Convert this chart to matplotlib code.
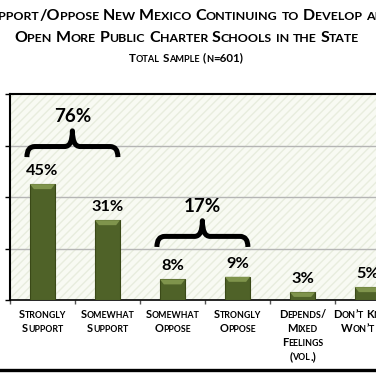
import matplotlib
matplotlib.use("Agg")
import matplotlib.pyplot as plt
from matplotlib.patches import Rectangle, Polygon, PathPatch
from matplotlib.path import Path
from matplotlib.lines import Line2D
import numpy as np

# ---------------- data ----------------
categories = [
    "Strongly\nSupport",
    "Somewhat\nSupport",
    "Somewhat\nOppose",
    "Strongly\nOppose",
    "Depends/\nMixed\nFeelings\n(vol.)",
    "Don\u2019t Know/\nWon\u2019t Say",
]
values = [45, 31, 8, 9, 3, 5]
groups = [(0, 1), (2, 3)]
group_totals = [76, 17]
title_lines = ["Support/Oppose New Mexico Continuing to Develop and",
               "Open More Public Charter Schools in the State"]
subtitle = "Total Sample (n=601)"
y_max = 80
y_ticks = [0, 20, 40, 60, 80]

# ---------------- style ----------------
FONT = ["Lato", "DejaVu Sans"]
W = H = 376
BAR = "#4f6228"
BEVEL = "#7f944c"
EDGE = "#3a4917"

plt.rcParams["hatch.linewidth"] = 1.0
fig = plt.figure(figsize=(3.76, 3.76), dpi=100)
fig.patch.set_facecolor("white")
renderer = fig.canvas.get_renderer()

# axes (extends past the right edge, like the cropped reference)
ax = fig.add_axes([10 / W, 76 / H, 390 / W, 206 / H])
ax.set_xlim(-0.5, len(values) - 0.5)
ax.set_ylim(0, y_max)
ax.set_facecolor("#f8faf3")
ax.add_patch(Rectangle((0, 0), 1, 1, transform=ax.transAxes, facecolor="none",
                       edgecolor="#e8edde", hatch="////", lw=0, zorder=0))
for s in ["left", "top"]:
    ax.spines[s].set_linewidth(1.5)
    ax.spines[s].set_color("black")
ax.spines["bottom"].set_linewidth(1.2)
ax.spines["right"].set_linewidth(1.5)
ax.set_yticks(y_ticks)
ax.set_yticklabels([])
ax.tick_params(axis="y", direction="out", length=3.6, width=1, color="black")
ax.set_xticks(np.arange(-0.5, len(values), 1.0))
ax.set_xticklabels([])
ax.tick_params(axis="x", direction="out", length=3, width=1, color="#555555")
for yv in y_ticks[1:-1]:
    ax.axhline(yv, color="#b5b5b5", lw=1, zorder=1)

px_per_unit = 206 / y_max
bw = 0.385
x = np.arange(len(values))
ax.bar(x, values, width=bw, color=BAR, edgecolor=EDGE, lw=0.8, zorder=3)
bev = 5 / px_per_unit
inset = 0.06
for xi, v in zip(x, values):
    b = min(bev, v * 0.6)
    ax.add_patch(Polygon([(xi - bw / 2, v), (xi + bw / 2, v),
                          (xi + bw / 2 - inset, v - b), (xi - bw / 2 + inset, v - b)],
                         closed=True, facecolor=BEVEL, edgecolor="none", zorder=4))
    ax.annotate(f"{v}%", (xi, v), xytext=(0, 6.5), textcoords="offset points",
                ha="center", va="baseline", fontsize=11.8, fontweight="bold",
                family=FONT, zorder=5)

# braces
def brace(x0, x1, y_tip, y_h, y_peak, r=0.12):
    xc = (x0 + x1) / 2
    verts = [(x0, y_tip), (x0, y_h), (x0 + r, y_h), (xc - r, y_h), (xc, y_h), (xc, y_peak),
             (xc, y_h), (xc + r, y_h), (x1 - r, y_h), (x1, y_h), (x1, y_tip)]
    codes = [Path.MOVETO, Path.CURVE3, Path.CURVE3, Path.LINETO, Path.CURVE3, Path.CURVE3,
             Path.CURVE3, Path.CURVE3, Path.LINETO, Path.CURVE3, Path.CURVE3]
    ax.add_patch(PathPatch(Path(verts, codes), facecolor="none", edgecolor="black",
                           lw=3.6, capstyle="butt", joinstyle="round", zorder=6))

for (a, b), tot in zip(groups, group_totals):
    top = max(values[a:b + 1])
    y_tip = top + 10.5 + (1.1 if top < 20 else 0)
    xa, xb = a - 0.24, b + 0.16
    brace(xa, xb, y_tip, y_tip + 4.1, y_tip + 10.2)
    ax.text((xa + xb) / 2, y_tip + 13.7, f"{tot}%", ha="center", va="baseline",
            fontsize=13.6, fontweight="bold", family=FONT, zorder=6)

# ---------------- small caps text helper ----------------
def width_px(s, size):
    t = fig.text(0, 0, s, fontsize=size, fontweight="bold", family=FONT)
    w = t.get_window_extent(renderer).width
    t.remove()
    return w

def runs_of(word, big, small):
    runs = []
    for c in word:
        seg = (c.upper(), small) if c.islower() else (c, big)
        if runs and runs[-1][1] == seg[1]:
            runs[-1][0] += seg[0]
        else:
            runs.append([seg[0], seg[1]])
    return runs

def smallcaps(xc, yb, text, big, small):
    space = width_px("H H", big) - width_px("HH", big)
    items, total = [], 0.0
    for i, wd in enumerate(text.split(" ")):
        if i > 0:
            total += space
        for s, sz in runs_of(wd, big, small):
            adv = width_px("H" + s + "H", sz) - width_px("HH", sz)
            items.append((total, s, sz))
            total += adv
    x0 = xc - total / 2
    for off, s, sz in items:
        fig.text((x0 + off) / W, 1 - yb / H, s, fontsize=sz, fontweight="bold",
                 family=FONT, ha="left", va="baseline", color="black")

# titles
smallcaps(187, 20, title_lines[0], 11.5, 8.9)
smallcaps(187, 42, title_lines[1], 11.5, 8.9)
smallcaps(186, 61.5, subtitle, 8.4, 6.6)

# category labels
for xi, lab in zip(x, categories):
    xc = ax.transData.transform((xi, 0))[0]
    for j, line in enumerate(lab.split("\n")):
        smallcaps(xc, 318.5 + 14 * j, line, 8.0, 6.3)

# bottom rule
fig.add_artist(Line2D([0, 1], [1 - 370 / H] * 2, transform=fig.transFigure,
                      color="black", lw=2.4))

fig.savefig("out.png", dpi=100)
